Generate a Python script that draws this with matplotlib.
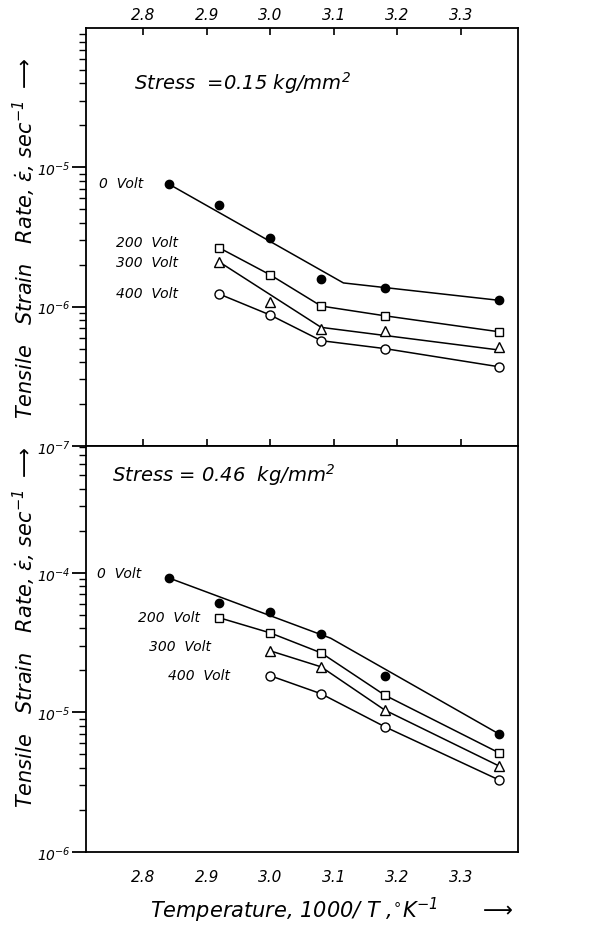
import matplotlib
matplotlib.use('Agg')
import matplotlib.pyplot as plt
import numpy as np
from matplotlib.ticker import LogLocator, NullFormatter

# 1000/T values of the measurement columns
temp = [2.84, 2.92, 3.00, 3.08, 3.18, 3.36]

# stress = 0.15 kg/mm^2
top_0v = [7.6e-6, 5.4e-6, 3.1e-6, 1.58e-6, 1.36e-6, 1.11e-6]
top_200v = [2.64e-6, 1.69e-6, 1.01e-6, 8.6e-7, 6.6e-7]
top_300v = [2.09e-6, 1.08e-6, 6.9e-7, 6.7e-7, 5.1e-7]
top_400v = [1.23e-6, 8.7e-7, 5.7e-7, 5.0e-7, 3.7e-7]
top_0v_fit_x = [2.84, 3.115, 3.36]
top_0v_fit_y = [7.6e-6, 1.48e-6, 1.11e-6]
top_300v_fit_x = [2.92, 3.08, 3.365]
top_300v_fit_y = [2.09e-6, 7.1e-7, 4.85e-7]

# stress = 0.46 kg/mm^2
bot_0v = [9.2e-5, 6.1e-5, 5.25e-5, 3.66e-5, 1.83e-5, 7.0e-6]
bot_200v = [4.76e-5, 3.71e-5, 2.67e-5, 1.33e-5, 5.13e-6]
bot_300v = [2.76e-5, 2.12e-5, 1.04e-5, 4.13e-6]
bot_400v = [1.83e-5, 1.36e-5, 7.9e-6, 3.28e-6]
bot_0v_fit_x = [2.84, 3.095, 3.36]
bot_0v_fit_y = [9.2e-5, 3.4e-5, 7.0e-6]

xticks = [2.8, 2.9, 3.0, 3.1, 3.2, 3.3]
xticklabels = ['2.8', '2.9', '3.0', '3.1', '3.2', '3.3']
volt_labels = ['0  Volt', '200  Volt', '300  Volt', '400  Volt']

plt.rcParams['font.family'] = 'DejaVu Sans'
plt.rcParams['font.style'] = 'italic'
plt.rcParams['mathtext.fontset'] = 'dejavusans'

fig = plt.figure(figsize=(6.14, 9.37), dpi=100)
ax1 = fig.add_axes([0.140, 0.523, 0.704, 0.446])
ax2 = fig.add_axes([0.140, 0.0896, 0.704, 0.4334], sharex=ax1)

lw = 1.1
mk = dict(color='black', linestyle='none', zorder=3)


def series(ax, x, y, marker, ms, face, line=True):
    if line:
        ax.plot(x, y, color='black', lw=lw, zorder=2)
    ax.plot(x, y, marker=marker, ms=ms, mfc=face, mec='black', mew=1.0, **mk)


# top panel
series(ax1, temp, top_0v, 'o', 6, 'black', line=False)
ax1.plot(top_0v_fit_x, top_0v_fit_y, color='black', lw=lw, zorder=2)
series(ax1, temp[1:], top_200v, 's', 6, 'white')
series(ax1, temp[1:], top_300v, '^', 7.5, 'white', line=False)
ax1.plot(top_300v_fit_x, top_300v_fit_y, color='black', lw=lw, zorder=2)
series(ax1, temp[1:], top_400v, 'o', 6.5, 'white')

# bottom panel
series(ax2, temp, bot_0v, 'o', 6, 'black', line=False)
ax2.plot(bot_0v_fit_x, bot_0v_fit_y, color='black', lw=lw, zorder=2)
series(ax2, temp[1:], bot_200v, 's', 6, 'white')
series(ax2, temp[2:], bot_300v, '^', 7.5, 'white')
series(ax2, temp[2:], bot_400v, 'o', 6.5, 'white')

for ax in (ax1, ax2):
    ax.set_yscale('log')
    ax.set_xlim(2.71, 3.39)
    ax.set_xticks(xticks)
    ax.yaxis.set_minor_locator(LogLocator(base=10, subs=np.arange(2, 10)))
    ax.yaxis.set_minor_formatter(NullFormatter())
    for s in ax.spines.values():
        s.set_linewidth(1.3)
    ax.tick_params(axis='y', which='major', direction='out', length=10, width=1.3,
                   labelsize=10, pad=1)
    ax.tick_params(axis='y', which='minor', direction='out', length=5, width=1.0)
    ax.tick_params(axis='y', right=False)

ax1.set_ylim(1e-7, 1e-4)
ax1.set_yticks([1e-7, 1e-6, 1e-5])
ax1.set_yticklabels([r'$10^{-7}$', r'$10^{-6}$', r'$10^{-5}$'])
ax1.tick_params(axis='x', which='both', top=True, bottom=True, direction='in',
                length=5, width=1.2, labeltop=True, labelbottom=False, labelsize=11, pad=4)

ax2.set_ylim(1e-6, 8.1e-4)
ax2.set_yticks([1e-6, 1e-5, 1e-4])
ax2.set_yticklabels([r'$10^{-6}$', r'$10^{-5}$', r'$10^{-4}$'])
ax2.tick_params(axis='x', which='both', top=False, bottom=True, direction='in',
                length=0, labelbottom=True, labelsize=11, pad=12)
ax2.set_xticklabels(xticklabels)
ax1.set_xticklabels(xticklabels)

# stress annotations
ax1.text(0.11, 0.87, r'Stress  =0.15 kg/mm$^2$', transform=ax1.transAxes,
         fontsize=14, ha='left', va='center')
ax2.text(0.06, 0.93, r'Stress = 0.46  kg/mm$^2$', transform=ax2.transAxes,
         fontsize=14, ha='left', va='center')

# volt labels
top_pos = [(0.03, 0.63), (0.07, 0.488), (0.07, 0.44), (0.07, 0.365)]
bot_pos = [(0.025, 0.688), (0.12, 0.58), (0.145, 0.508), (0.19, 0.437)]
for lab, (x, y) in zip(volt_labels, top_pos):
    ax1.text(x, y, lab, transform=ax1.transAxes, fontsize=10, ha='left', va='center')
for lab, (x, y) in zip(volt_labels, bot_pos):
    ax2.text(x, y, lab, transform=ax2.transAxes, fontsize=10, ha='left', va='center')

# axis labels
ylab = r'Tensile   Strain   Rate, $\dot{\varepsilon}$, sec$^{-1}$ $\longrightarrow$'
fig.text(0.04, 0.745, ylab, rotation=90, fontsize=15, ha='center', va='center')
fig.text(0.04, 0.33, ylab, rotation=90, fontsize=15, ha='center', va='center')
fig.text(0.54, 0.028, r'Temperature, 1000/ T ,$^{\circ}$K$^{-1}$      $\longrightarrow$',
         fontsize=15, ha='center', va='center')

fig.savefig('out.png', dpi=100)
